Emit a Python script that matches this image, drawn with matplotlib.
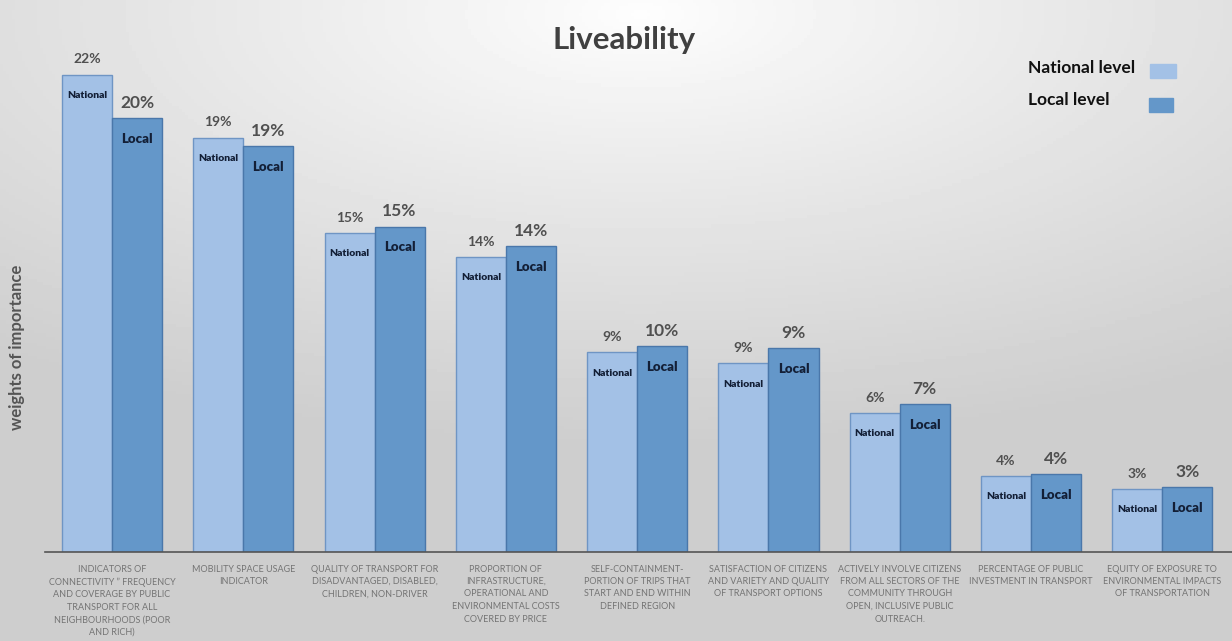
import numpy as np
import matplotlib
matplotlib.use("Agg")
import matplotlib.pyplot as plt
from matplotlib.patches import Rectangle

plt.rcParams['font.family'] = ['Lato', 'DejaVu Sans']

categories = [
    "INDICATORS OF\nCONNECTIVITY \u201d FREQUENCY\nAND COVERAGE BY PUBLIC\nTRANSPORT FOR ALL\nNEIGHBOURHOODS (POOR\nAND RICH)",
    "MOBILITY SPACE USAGE\nINDICATOR",
    "QUALITY OF TRANSPORT FOR\nDISADVANTAGED, DISABLED,\nCHILDREN, NON-DRIVER",
    "PROPORTION OF\nINFRASTRUCTURE,\nOPERATIONAL AND\nENVIRONMENTAL COSTS\nCOVERED BY PRICE",
    "SELF-CONTAINMENT-\nPORTION OF TRIPS THAT\nSTART AND END WITHIN\nDEFINED REGION",
    "SATISFACTION OF CITIZENS\nAND VARIETY AND QUALITY\nOF TRANSPORT OPTIONS",
    "ACTIVELY INVOLVE CITIZENS\nFROM ALL SECTORS OF THE\nCOMMUNITY THROUGH\nOPEN, INCLUSIVE PUBLIC\nOUTREACH.",
    "PERCENTAGE OF PUBLIC\nINVESTMENT IN TRANSPORT",
    "EQUITY OF EXPOSURE TO\nENVIRONMENTAL IMPACTS\nOF TRANSPORTATION",
]
national = [22.0, 19.1, 14.7, 13.6, 9.2, 8.7, 6.4, 3.5, 2.9]
local = [20.0, 18.7, 15.0, 14.1, 9.5, 9.4, 6.8, 3.6, 3.0]
national_labels = ["22%", "19%", "15%", "14%", "9%", "9%", "6%", "4%", "3%"]
local_labels = ["20%", "19%", "15%", "14%", "10%", "9%", "7%", "4%", "3%"]

W, H = 1232, 641
fig = plt.figure(figsize=(W / 100, H / 100), dpi=100)

# background: soft radial gradient, white at top centre
bg = fig.add_axes([0, 0, 1, 1], zorder=-5)
yy, xx = np.mgrid[0:1:200j, 0:1:400j]
r = np.sqrt(((xx - 0.52) * 1.0) ** 2 + ((yy - 0.02) * 1.25) ** 2)
shade = 0.995 - 0.19 * np.clip(r / 0.85, 0, 1) ** 0.9
bg.imshow(shade, cmap='gray', vmin=0, vmax=1, aspect='auto',
          extent=[0, 1, 0, 1], origin='upper')
bg.set_axis_off()

ax = fig.add_axes([45 / W, 89 / H, 1 - 45 / W, 552 / H])
ax.patch.set_alpha(0)
x = np.arange(len(categories))
bw = 0.381

ax.bar(x - bw / 2, national, bw, color='#a3c1e6', edgecolor='#6f95c4', linewidth=1)
ax.bar(x + bw / 2, local, bw, color='#6497c9', edgecolor='#4a77aa', linewidth=1)

for i in range(len(categories)):
    ax.annotate(national_labels[i], (x[i] - bw / 2, national[i]), xytext=(0, 11),
                textcoords='offset points', ha='center', va='center',
                fontsize=10, color='#505050', fontweight='bold')
    ax.annotate(local_labels[i], (x[i] + bw / 2, local[i]), xytext=(0, 11),
                textcoords='offset points', ha='center', va='center',
                fontsize=12.5, color='#505050', fontweight='bold')
    ax.annotate("National", (x[i] - bw / 2, national[i]), xytext=(0, -15),
                textcoords='offset points', ha='center', va='center',
                fontsize=7.5, color='#131f36', fontweight='heavy')
    ax.annotate("Local", (x[i] + bw / 2, local[i]), xytext=(0, -15),
                textcoords='offset points', ha='center', va='center',
                fontsize=9.5, color='#131f36', fontweight='heavy')
    ax.annotate(categories[i], (x[i], 0), xytext=(0, -9),
                textcoords='offset points', ha='center', va='top',
                fontsize=6.5, color='#747474', linespacing=1.5)

ax.set_xlim(-0.51, 8.53)
ax.set_ylim(0, 25.44)
for s in ['top', 'right', 'left']:
    ax.spines[s].set_visible(False)
ax.spines['bottom'].set_color('#555555')
ax.spines['bottom'].set_linewidth(1.2)
ax.set_xticks([])
ax.set_yticks([])

fig.text(17 / W, 1 - 347 / H, "weights of importance", rotation=90,
         ha='center', va='center', fontsize=12, color='#555555', fontweight='bold')
fig.text(624 / W, 1 - 40 / H, "Liveability", ha='center', va='center',
         fontsize=22.5, color='#404040', fontweight='bold')

# legend drawn by hand
fig.text(1028 / W, 1 - 68 / H, "National level", ha='left', va='center',
         fontsize=12.5, color='#111111', fontweight='bold')
fig.text(1028 / W, 1 - 100 / H, "Local level", ha='left', va='center',
         fontsize=12.5, color='#111111', fontweight='bold')
fig.patches.append(Rectangle((1150 / W, 1 - 78 / H), 26 / W, 14 / H,
                             transform=fig.transFigure, color='#a3c1e6'))
fig.patches.append(Rectangle((1149 / W, 1 - 112 / H), 24 / W, 14 / H,
                             transform=fig.transFigure, color='#6497c9'))

plt.savefig("out.png", dpi=100)
plt.close()
